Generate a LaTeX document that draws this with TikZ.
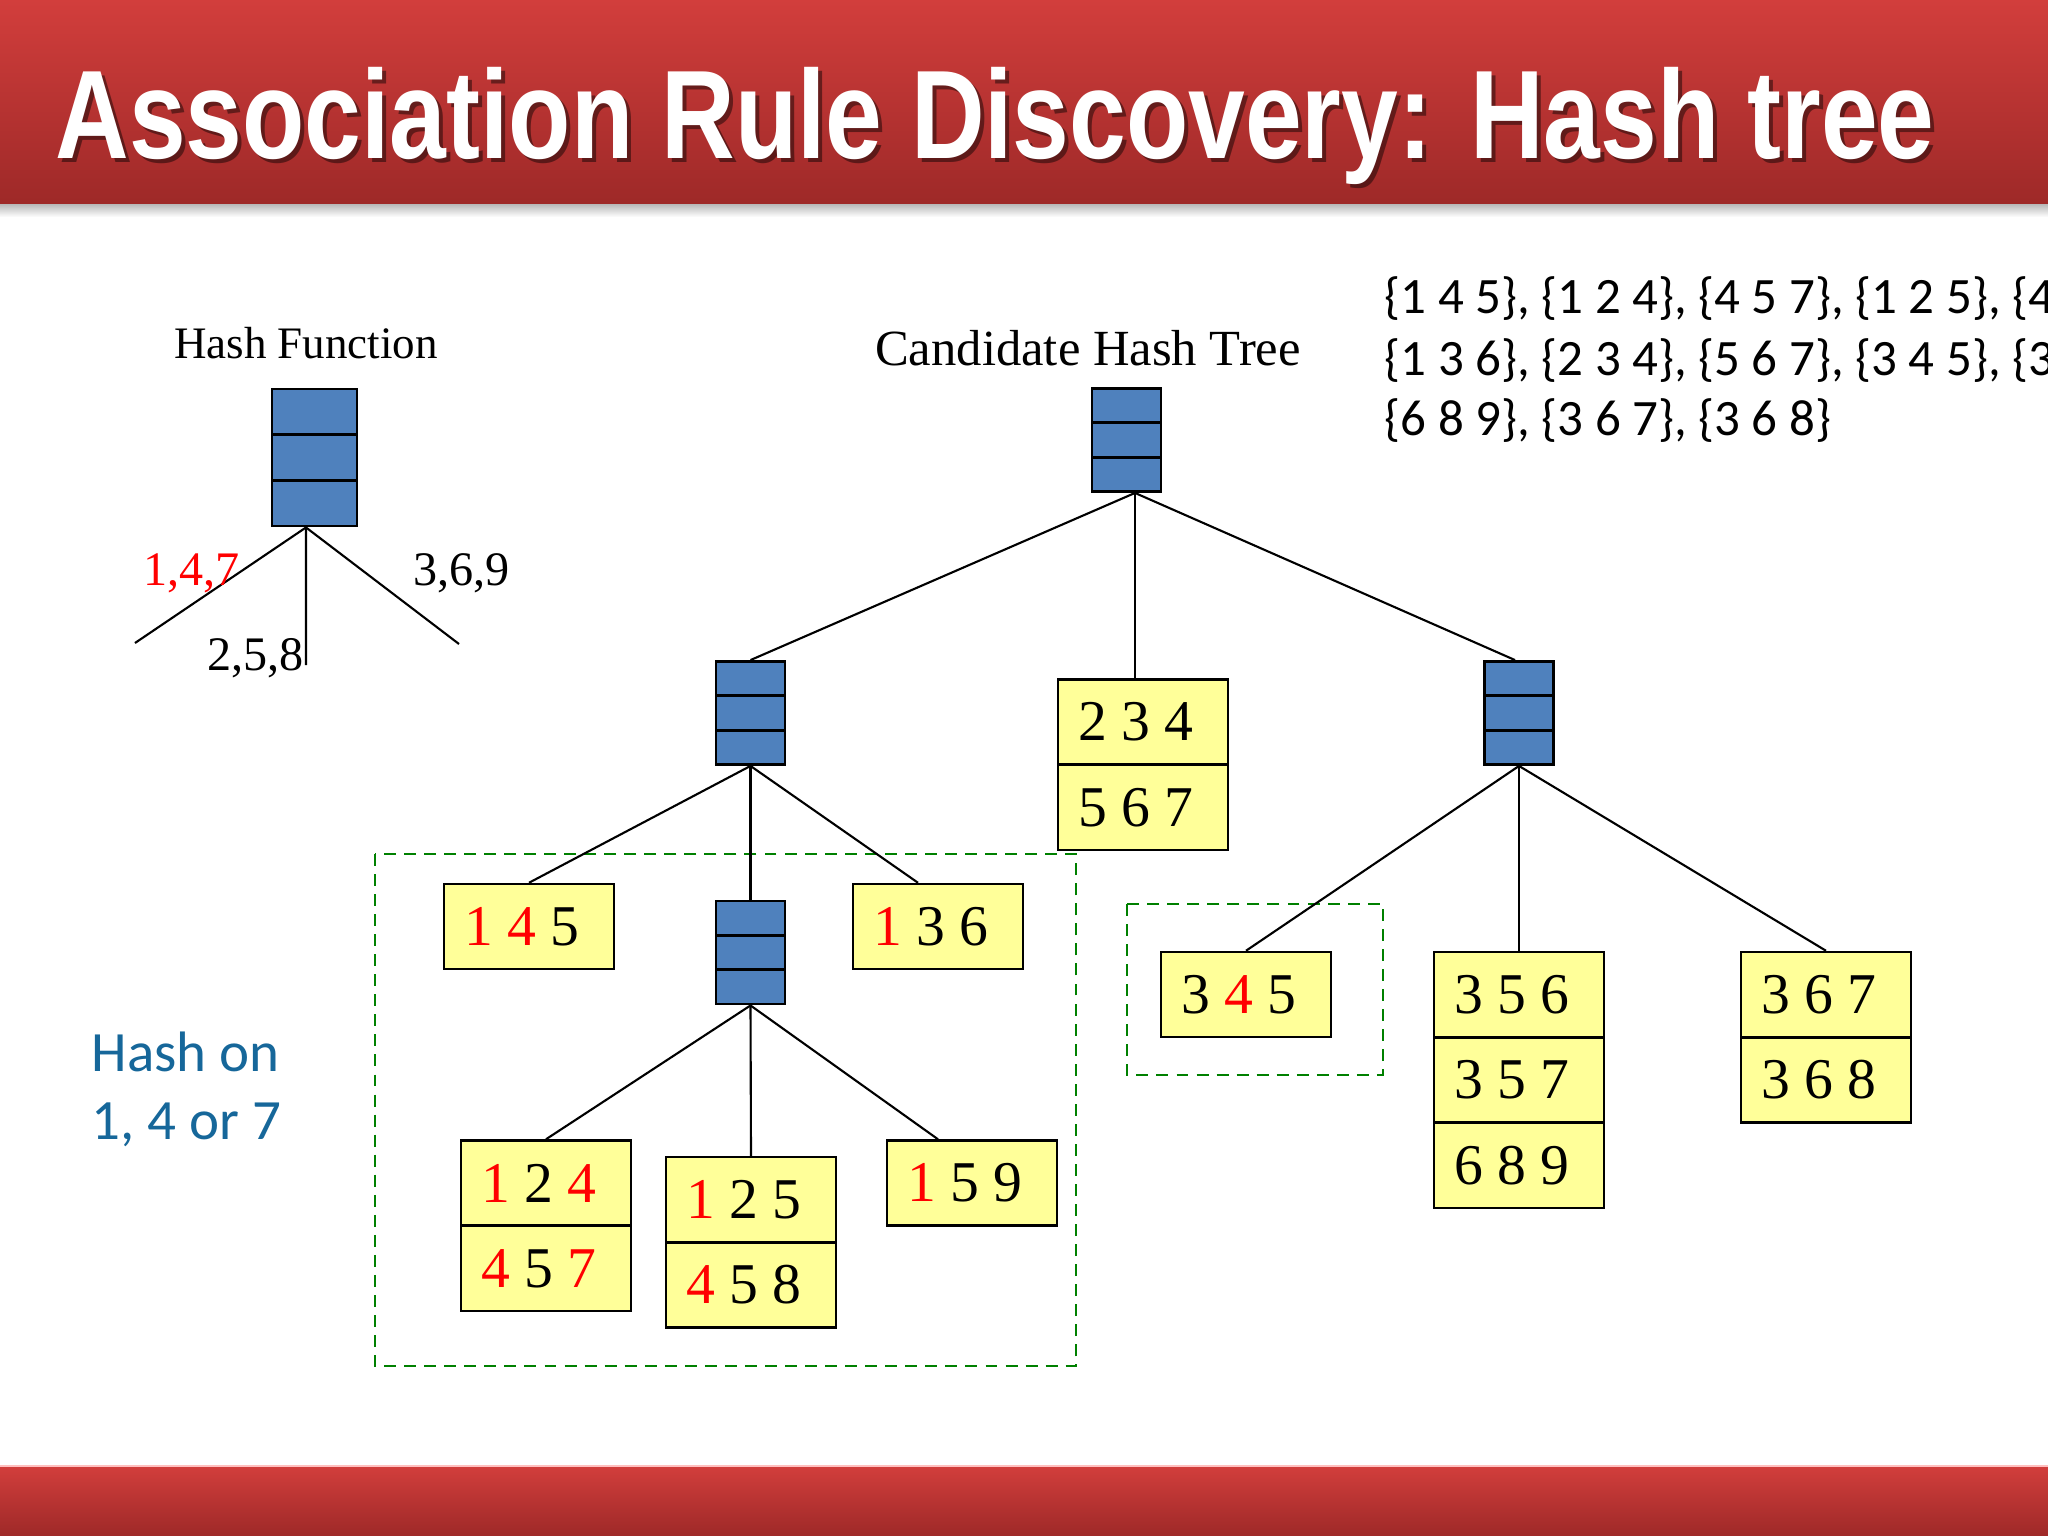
\documentclass[tikz,border=0pt]{standalone}
\usepackage{fontspec}
\setmainfont{Liberation Serif}
\newfontfamily\calfont{Carlito}
\newfontfamily\headfont{Liberation Sans}
\usetikzlibrary{calc}
\definecolor{barTop}{RGB}{210,62,60}
\definecolor{barBot}{RGB}{158,41,40}
\definecolor{bucketBlue}{RGB}{79,129,189}
\definecolor{leafYellow}{RGB}{255,255,153}
\definecolor{dashGreen}{RGB}{0,128,0}
\definecolor{noteBlue}{RGB}{22,103,154}
\newcommand\redd[1]{\textcolor{red}{#1}}
\begin{document}
\begin{tikzpicture}[x=0.01cm,y=-0.01cm,
  bucket/.style={draw=black, line width=0.8pt, fill=bucketBlue, minimum width=0.69cm,
    minimum height=1.03cm, inner sep=0pt,
    path picture={\foreach \f in {0.333,0.667}{\draw[line width=0.8pt]
      ($(path picture bounding box.north west)!\f!(path picture bounding box.south west)$) --
      ($(path picture bounding box.north east)!\f!(path picture bounding box.south east)$);}}},
  cell/.style={draw=black, line width=0.7pt, fill=leafYellow, minimum width=1.7cm,
    minimum height=0.85cm, inner sep=0pt, font=\fontsize{16.4}{18}\selectfont,
    execute at end node={\hspace*{0.14cm}}},
  link/.style={draw=black, line width=0.6pt},
  zone/.style={draw=dashGreen, line width=0.75pt, dash pattern=on 3.4pt off 2.3pt},
  listtext/.style={anchor=base west, inner sep=0pt, font=\calfont\fontsize{14.5}{17}\selectfont},
  notetext/.style={anchor=base west, inner sep=0pt, text=noteBlue, font=\calfont\fontsize{16.2}{19}\selectfont},
  hashlabel/.style={anchor=base west, inner sep=0pt, font=\fontsize{13.7}{16}\selectfont}
]
\useasboundingbox (0,0) rectangle (2048,1536);
\fill[white] (0,0) rectangle (2048,1536);

% title bar
\shade[top color=black!30, bottom color=white] (0,203) rectangle (2048,217);
\shade[top color=barTop, bottom color=barBot] (0,0) rectangle (2048,203);
\node[anchor=base west, inner sep=0pt, text=black, opacity=0.45,
  font=\headfont\bfseries\fontsize{35.8}{40}\selectfont] (titleshadow) at (59,162)
  {\resizebox{18.78cm}{\height}{Association Rule Discovery: Hash tree}};
\node[anchor=base west, inner sep=0pt, text=white,
  font=\headfont\bfseries\fontsize{35.8}{40}\selectfont] (title) at (55,158)
  {\resizebox{18.78cm}{\height}{Association Rule Discovery: Hash tree}};

% bottom bar
\shade[top color=barTop, bottom color=barBot] (0,1466) rectangle (2048,1536);
\draw[line width=0.5pt, color=red!25] (0,1466) -- (2048,1466);

% hash function legend
\node[anchor=base, font=\fontsize{12.8}{15}\selectfont] (hftitle) at (306,358) {Hash Function};
\node[bucket, minimum width=0.85cm, minimum height=1.37cm] (hf) at (314.5,457.5) {};
\coordinate (hfapex) at ([xshift=-0.085cm]hf.south);
\coordinate (hfL) at (135,643);
\coordinate (hfM) at (306,665);
\coordinate (hfR) at (459,644);
\draw[link] (hfapex) -- (hfL);
\draw[link] (hfapex) -- (hfM);
\draw[link] (hfapex) -- (hfR);
\node[hashlabel, text=red] (l147) at (143,585) {1,4,7};
\node[hashlabel] (l369) at (413,585) {3,6,9};
\node[hashlabel] (l258) at (207,670) {2,5,8};

% note
\node[notetext] (hashon1) at (91,1071) {Hash on};
\node[notetext] (hashon2) at (91,1139) {1, 4 or 7};

% candidate list
\begin{scope}
\clip (0,0) rectangle (2048,1536);
\node[listtext] (list1) at (1384,313) {\{1 4 5\}, \{1 2 4\}, \{4 5 7\}, \{1 2 5\}, \{4};
\node[listtext] (list2) at (1384,375) {\{1 3 6\}, \{2 3 4\}, \{5 6 7\}, \{3 4 5\}, \{3};
\node[listtext] (list3) at (1384,435) {\{6 8 9\}, \{3 6 7\}, \{3 6 8\}};
\end{scope}

\node[anchor=base, font=\fontsize{14.4}{17}\selectfont] (cht) at (1088,365) {Candidate Hash Tree};

% dashed zones
\draw[zone] (375,854) rectangle (1076,1366);
\draw[zone] (1127,904) rectangle (1383,1075);

% tree nodes
\node[bucket] (root) at (1126.5,440) {};
\node[bucket] (L) at (750.5,713) {};
\node[bucket] (R) at (1519,713) {};
\node[bucket] (M) at (750.5,952.5) {};

\node[cell] (c145) at (529,926.5) {\redd{1} \redd{4} 5};
\node[cell] (c136) at (938,926.5) {\redd{1} 3 6};
\node[cell] (c124) at (546,1183) {\redd{1} 2 \redd{4}};
\node[cell] (c457) at (546,1268.5) {\redd{4} 5 \redd{7}};
\node[cell] (c125) at (751,1199.5) {\redd{1} 2 5};
\node[cell] (c458) at (751,1285) {\redd{4} 5 8};
\node[cell] (c159) at (972,1183) {\redd{1} 5 9};
\node[cell] (c234) at (1143,722) {2 3 4};
\node[cell] (c567) at (1143,807.5) {5 6 7};
\node[cell] (c345) at (1246,994.5) {3 \redd{4} 5};
\node[cell] (c356) at (1519,994.5) {3 5 6};
\node[cell] (c357) at (1519,1080) {3 5 7};
\node[cell] (c689) at (1519,1165.5) {6 8 9};
\node[cell] (c367) at (1826,994.5) {3 6 7};
\node[cell] (c368) at (1826,1080) {3 6 8};

% connectors
\coordinate (rootapex) at ([xshift=0.085cm]root.south);
\draw[link] (rootapex) -- (L.north);
\draw[link] (rootapex) -- (rootapex |- c234.north);
\draw[link] (rootapex) -- ([xshift=-0.04cm]R.north);
\draw[link] (L.south) -- (c145.north);
\draw[link] (L.south) -- (M.north);
\draw[link] (L.south) -- ([xshift=-0.2cm]c136.north);
\draw[link] (M.south) -- (c124.north);
\draw[link] (M.south) -- (c125.north);
\draw[link] (M.south) -- ([xshift=-0.34cm]c159.north);
\draw[link] (R.south) -- (c345.north);
\draw[link] (R.south) -- (c356.north);
\draw[link] (R.south) -- (c367.north);
\end{tikzpicture}
\end{document}
